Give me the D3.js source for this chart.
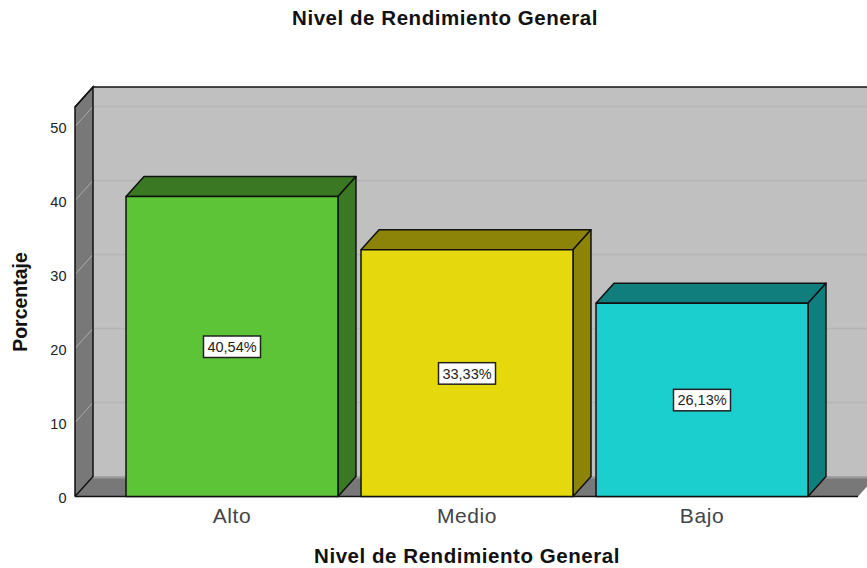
<!DOCTYPE html>
<html>
<head>
<meta charset="utf-8">
<title>Nivel de Rendimiento General</title>
<script src="https://d3js.org/d3.v7.min.js"></script>
<style>
html, body { margin: 0; padding: 0; background: #fff; }
svg { display: block; }
text { font-family: "Liberation Sans", Arial, sans-serif; }
</style>
</head>
<body>
<script>
// data
var categories = ["Alto", "Medio", "Bajo"];
var values = [40.54, 33.33, 26.13];
var valueLabels = ["40,54%", "33,33%", "26,13%"];
var frontColors = ["#5EC437", "#E5D90E", "#1BCFCF"];
var darkColors = ["#3A7823", "#8C8408", "#117E7E"];
var yTicks = [0, 10, 20, 30, 40, 50];

var w = 867, h = 568;
var dx = 18, dy = -20; // 3d depth offset
var left = 75, right = 858, base = 496.5, top3d = 107;

var y = d3.scaleLinear().domain([0, 50]).range([base, 126.5]);
var x = d3.scaleBand().domain(categories).range([114.5, 819.5]).paddingInner(0.098).paddingOuter(0.049);

var svg = d3.select("body").append("svg").attr("width", w).attr("height", h);

function poly(pts) { return pts.map(function(p){ return p.join(","); }).join(" "); }

// walls
svg.append("polygon").attr("points", poly([[left+dx, top3d+dy], [w+20, top3d+dy], [w+20, base+dy], [left+dx, base+dy]]))
	.attr("fill", "#C0C0C0");

// back wall grid
svg.selectAll("line.grid").data(yTicks.slice(1)).enter().append("line")
	.attr("class", "grid")
	.attr("x1", left+dx).attr("x2", w)
	.attr("y1", function(d){ return y(d)+dy; }).attr("y2", function(d){ return y(d)+dy; })
	.attr("stroke", "#B3B3B3").attr("stroke-width", 1.5);

// floor
svg.append("polygon").attr("points", poly([[left, base], [left+dx, base+dy], [right+dx, base+dy], [right, base]]))
	.attr("fill", "#787878");
svg.append("line").attr("x1", left+dx).attr("x2", w).attr("y1", base+dy+1).attr("y2", base+dy+1)
	.attr("stroke", "#9A9A9A").attr("stroke-width", 2);
svg.append("line").attr("x1", left).attr("x2", right).attr("y1", base).attr("y2", base)
	.attr("stroke", "#111").attr("stroke-width", 1.5);

// left wall
svg.append("polygon").attr("points", poly([[left, top3d], [left+dx, top3d+dy], [left+dx, base+dy], [left, base]]))
	.attr("fill", "#787878");
svg.selectAll("line.sidegrid").data(yTicks).enter().append("line")
	.attr("class", "sidegrid")
	.attr("x1", left).attr("x2", left+dx)
	.attr("y1", function(d){ return y(d); }).attr("y2", function(d){ return y(d)+dy; })
	.attr("stroke", "#ABABAB").attr("stroke-width", 1);
svg.append("polyline").attr("points", poly([[left, base], [left, top3d], [left+dx, top3d+dy], [w+20, top3d+dy]]))
	.attr("fill", "none").attr("stroke", "#111").attr("stroke-width", 1.5);
svg.append("polyline").attr("points", poly([[left, top3d], [left+dx, top3d+dy], [left+dx, base+dy], [left, base]]))
	.attr("fill", "none").attr("stroke", "#111").attr("stroke-width", 1.5);

// bars
var bars = svg.selectAll("g.bar").data(categories).enter().append("g").attr("class", "bar");
bars.append("polygon") // top
	.attr("points", function(d,i){
		var x0 = x(d), x1 = x0+x.bandwidth(), t = y(values[i]);
		return poly([[x0,t],[x0+dx,t+dy],[x1+dx,t+dy],[x1,t]]);
	})
	.attr("fill", function(d,i){ return darkColors[i]; });
bars.append("polygon") // side
	.attr("points", function(d,i){
		var x1 = x(d)+x.bandwidth(), t = y(values[i]);
		return poly([[x1,t],[x1+dx,t+dy],[x1+dx,base+dy],[x1,base]]);
	})
	.attr("fill", function(d,i){ return darkColors[i]; });
bars.append("rect") // front
	.attr("x", function(d){ return x(d); })
	.attr("y", function(d,i){ return y(values[i]); })
	.attr("width", x.bandwidth())
	.attr("height", function(d,i){ return base-y(values[i]); })
	.attr("fill", function(d,i){ return frontColors[i]; });
bars.selectAll("polygon,rect").attr("stroke", "#111").attr("stroke-width", 1.5).attr("stroke-linejoin", "round");

// value labels
bars.append("rect")
	.attr("x", function(d){ return x(d)+x.bandwidth()/2-28.5; })
	.attr("y", function(d,i){ return (y(values[i])+base)/2-10.5; })
	.attr("width", 57).attr("height", 21.5)
	.attr("fill", "#fff").attr("stroke", "#222").attr("stroke-width", 1.5);
bars.append("text")
	.attr("x", function(d){ return x(d)+x.bandwidth()/2; })
	.attr("y", function(d,i){ return (y(values[i])+base)/2+5.5; })
	.attr("text-anchor", "middle").attr("font-size", 14.5).attr("fill", "#222")
	.text(function(d,i){ return valueLabels[i]; });

// axes
var yAxis = d3.axisLeft(y).tickValues(yTicks).tickFormat(d3.format("d")).tickSize(0).tickPadding(8.5);
var gy = svg.append("g").attr("transform", "translate(" + left + ",1)").call(yAxis);
gy.select(".domain").remove();
gy.selectAll("text").attr("font-size", 14.5).attr("fill", "#222").style("font-family", '"Liberation Sans", Arial, sans-serif');

var xAxis = d3.axisBottom(x).tickSize(0).tickPadding(9);
var gx = svg.append("g").attr("transform", "translate(0," + (base+3) + ")").call(xAxis);
gx.select(".domain").remove();
gx.selectAll("text").attr("font-size", 21).attr("letter-spacing", 0.6).attr("fill", "#444").style("font-family", '"Liberation Sans", Arial, sans-serif');

// titles
svg.append("text").attr("x", 445).attr("y", 25).attr("text-anchor", "middle").attr("letter-spacing", 0.55)
	.attr("font-size", 20.5).attr("font-weight", "bold").attr("fill", "#111").text("Nivel de Rendimiento General");
svg.append("text").attr("x", 467).attr("y", 562.5).attr("text-anchor", "middle").attr("letter-spacing", 0.55)
	.attr("font-size", 20.5).attr("font-weight", "bold").attr("fill", "#111").text("Nivel de Rendimiento General");
svg.append("text").attr("transform", "translate(27,302) rotate(-90)").attr("text-anchor", "middle")
	.attr("font-size", 19.5).attr("font-weight", "bold").attr("fill", "#111").text("Porcentaje");
</script>
</body>
</html>
